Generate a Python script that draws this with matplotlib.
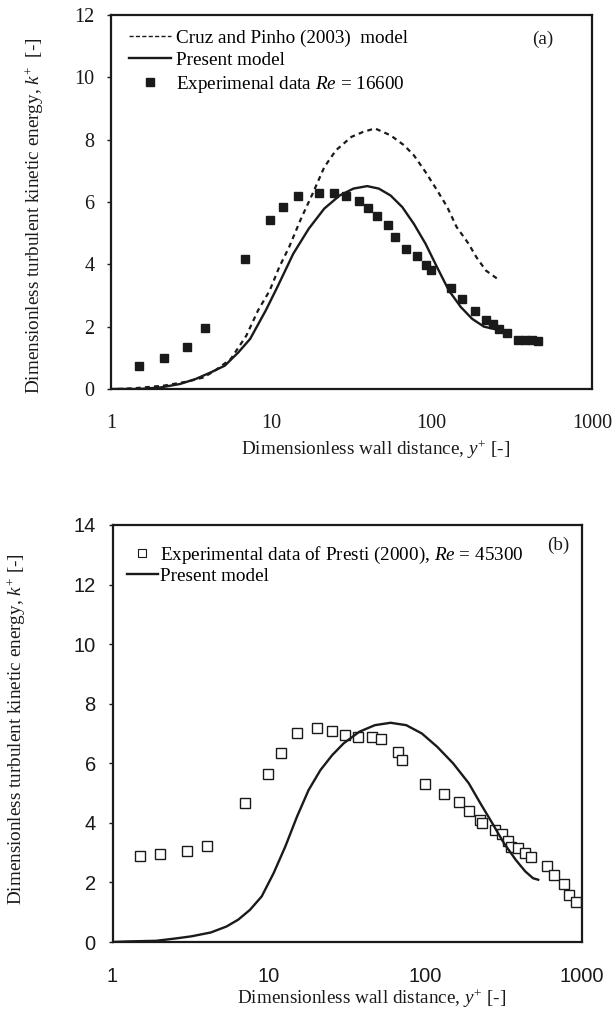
import matplotlib.pyplot as plt
from matplotlib.lines import Line2D
from matplotlib.ticker import FixedLocator, NullLocator, FixedFormatter

plt.rcParams['font.family'] = ['Liberation Serif', 'DejaVu Serif']
plt.rcParams['mathtext.fontset'] = 'custom'
plt.rcParams['mathtext.rm'] = 'Liberation Serif'
plt.rcParams['mathtext.it'] = 'Liberation Serif:italic'

# ---- panel (a): Re = 16600 ----
exp_a_y = [1.50, 2.13, 2.98, 3.85, 6.90, 9.8, 11.9, 14.6, 19.8, 24.7, 29.2, 35.4,
           40.2, 45.8, 53.2, 58.9, 69.2, 80.5, 91.6, 98.6, 132.5, 155, 187, 217,
           240, 262, 294, 344, 382, 420, 459]
exp_a_k = [0.73, 0.99, 1.36, 1.95, 4.16, 5.43, 5.85, 6.18, 6.29, 6.30, 6.19, 6.02,
           5.81, 5.56, 5.25, 4.89, 4.50, 4.28, 3.99, 3.83, 3.23, 2.88, 2.50, 2.22,
           2.09, 1.92, 1.79, 1.58, 1.58, 1.58, 1.53]

model_a_y = [1.0, 1.5, 2.03, 2.69, 3.37, 4.22, 5.13, 6.24, 7.38, 9.23, 10.9, 13.7,
             17.1, 21.4, 26.7, 32.5, 39.6, 46.8, 55.4, 65.5, 77.4, 91.6, 108, 128,
             152, 179, 212, 258]
model_a_k = [0.0, 0.0, 0.05, 0.16, 0.32, 0.54, 0.75, 1.18, 1.61, 2.52, 3.27, 4.34,
             5.14, 5.79, 6.21, 6.43, 6.51, 6.43, 6.21, 5.84, 5.30, 4.66, 3.91, 3.16,
             2.63, 2.25, 2.00, 1.90]

cruz_y = [1.1, 1.45, 2.15, 3.0, 3.77, 4.45, 5.58, 6.98, 8.26, 9.77, 11.2, 12.9,
          15.3, 18.1, 21.4, 25.3, 31.6, 37.4, 44.3, 55.4, 67.3, 77.4, 91.6, 108,
          125, 143, 170, 190, 218, 266]
cruz_k = [0.0, 0.03, 0.11, 0.24, 0.37, 0.59, 0.96, 1.71, 2.52, 3.16, 3.91, 4.55,
          5.46, 6.27, 7.12, 7.66, 8.09, 8.25, 8.36, 8.14, 7.82, 7.50, 6.96, 6.38,
          5.84, 5.20, 4.66, 4.23, 3.80, 3.48]

# ---- panel (b): Re = 45300 ----
exp_b_y = [1.49, 2.00, 3.01, 4.0, 7.05, 9.9, 12.0, 15.1, 20.2, 25.3, 30.4, 37.3,
           45.7, 52.1, 66.4, 70.3, 98.6, 131.5, 163.6, 190, 222, 230, 277, 308,
           337, 353, 392, 432, 474, 596, 661, 763, 822, 917]
exp_b_k = [2.89, 2.97, 3.04, 3.23, 4.66, 5.63, 6.35, 7.01, 7.17, 7.07, 6.96, 6.87,
           6.88, 6.82, 6.39, 6.10, 5.30, 4.97, 4.69, 4.40, 4.10, 3.99, 3.76, 3.63,
           3.39, 3.19, 3.15, 3.00, 2.85, 2.56, 2.24, 1.94, 1.59, 1.33]

model_b_y = [1.0, 1.27, 1.90, 2.54, 3.19, 4.25, 5.35, 6.36, 7.56, 8.98, 10.7, 12.7,
             15.1, 17.9, 21.3, 25.3, 30.0, 37.8, 47.5, 59.8, 75.3, 94.8, 119, 150,
             189, 224, 267, 317, 377, 434, 487, 525]
model_b_k = [0.0, 0.02, 0.04, 0.12, 0.19, 0.32, 0.52, 0.75, 1.08, 1.53, 2.31, 3.20,
             4.21, 5.10, 5.77, 6.27, 6.67, 7.06, 7.28, 7.36, 7.28, 7.00, 6.55, 6.00,
             5.33, 4.66, 3.99, 3.32, 2.76, 2.37, 2.14, 2.09]

x_ticks = [1, 10, 100, 1000]
x_ticklabels = ['1', '10', '100', '1000']

fig = plt.figure(figsize=(6.13, 10.09), dpi=100)
W, H = 613, 1009


def px_axes(l, t, r, b):
    return fig.add_axes([l / W, 1 - b / H, (r - l) / W, (b - t) / H])


ink = '#1a1a1a'
fs = 13.8
tfs = 14.5


def style(ax, ymax, tick_family):
    ax.set_xscale('log')
    ax.set_xlim(1, 1000)
    ax.set_ylim(0, ymax)
    ax.xaxis.set_major_locator(FixedLocator(x_ticks))
    ax.xaxis.set_major_formatter(FixedFormatter(x_ticklabels))
    ax.xaxis.set_minor_locator(NullLocator())
    ax.set_yticks(range(0, ymax + 1, 2))
    for s in ax.spines.values():
        s.set_linewidth(1.6)
        s.set_color(ink)
    ax.tick_params(axis='x', length=0, pad=18, labelsize=tfs, colors=ink)
    ax.tick_params(axis='y', length=3, width=1, direction='out', pad=9,
                   labelsize=tfs, colors=ink)
    for lab in ax.get_xticklabels() + ax.get_yticklabels():
        lab.set_family(tick_family)


# panel (a)
ax1 = px_axes(111, 15, 592, 389)
style(ax1, 12, 'Liberation Serif')
ax1.plot(cruz_y, cruz_k, color=ink, lw=1.6, dashes=(2.2, 1.9))
l_mod, = ax1.plot(model_a_y, model_a_k, color=ink, lw=1.7)
l_exp, = ax1.plot(exp_a_y, exp_a_k, 's', color=ink, ms=6.3, mec=ink)
h_cruz = Line2D([], [], color=ink, lw=1.0, dashes=(3, 1.6))
ax1.legend([h_cruz, l_mod, l_exp],
           ['Cruz and Pinho (2003)  model', 'Present model',
            'Experimenal data $Re$ = 16600'],
           loc='upper left', bbox_to_anchor=(0.037, 0.961), frameon=False,
           fontsize=fs, handlelength=2.2, handletextpad=0.25, labelspacing=0.24,
           borderpad=0, borderaxespad=0)
fig.text(543 / W, 1 - 39 / H, '(a)', fontsize=fs, ha='center', va='center', color=ink)
fig.text(376 / W, 1 - 450 / H, 'Dimensionless wall distance, $y^{+}$ [-]',
         fontsize=fs, ha='center', va='center', color=ink)
fig.text(35 / W, 1 - 216 / H, 'Dimensionless turbulent kinetic energy, $k^{+}$  [-]',
         fontsize=fs, ha='center', va='center', rotation=90, color=ink)

# panel (b)
ax2 = px_axes(112.5, 525, 582, 942)
style(ax2, 14, 'Liberation Sans')
ax2.plot(exp_b_y, exp_b_k, 's', mfc='white', mec=ink, ms=7.0, mew=1.0)
m_b, = ax2.plot(model_b_y, model_b_k, color=ink, lw=1.7)
h_eb = Line2D([], [], ls='none', marker='s', mfc='white', mec=ink, ms=5.5, mew=0.8)
ax2.legend([h_eb, m_b],
           ['Experimental data of Presti (2000), $Re$ = 45300', 'Present model'],
           loc='upper left', bbox_to_anchor=(0.031, 0.952), frameon=False,
           fontsize=fs, handlelength=1.6, handletextpad=0.12, labelspacing=0.08,
           borderpad=0, borderaxespad=0)
fig.text(558 / W, 1 - 545 / H, '(b)', fontsize=fs, ha='center', va='center', color=ink)
fig.text(372 / W, 1 - 999 / H, 'Dimensionless wall distance, $y^{+}$ [-]',
         fontsize=fs, ha='center', va='center', color=ink)
fig.text(17 / W, 1 - 729 / H, 'Dimensionless turbulent kinetic energy, $k^{+}$ [-]',
         fontsize=fs, ha='center', va='center', rotation=90, color=ink)

fig.savefig('out.png', dpi=100)
